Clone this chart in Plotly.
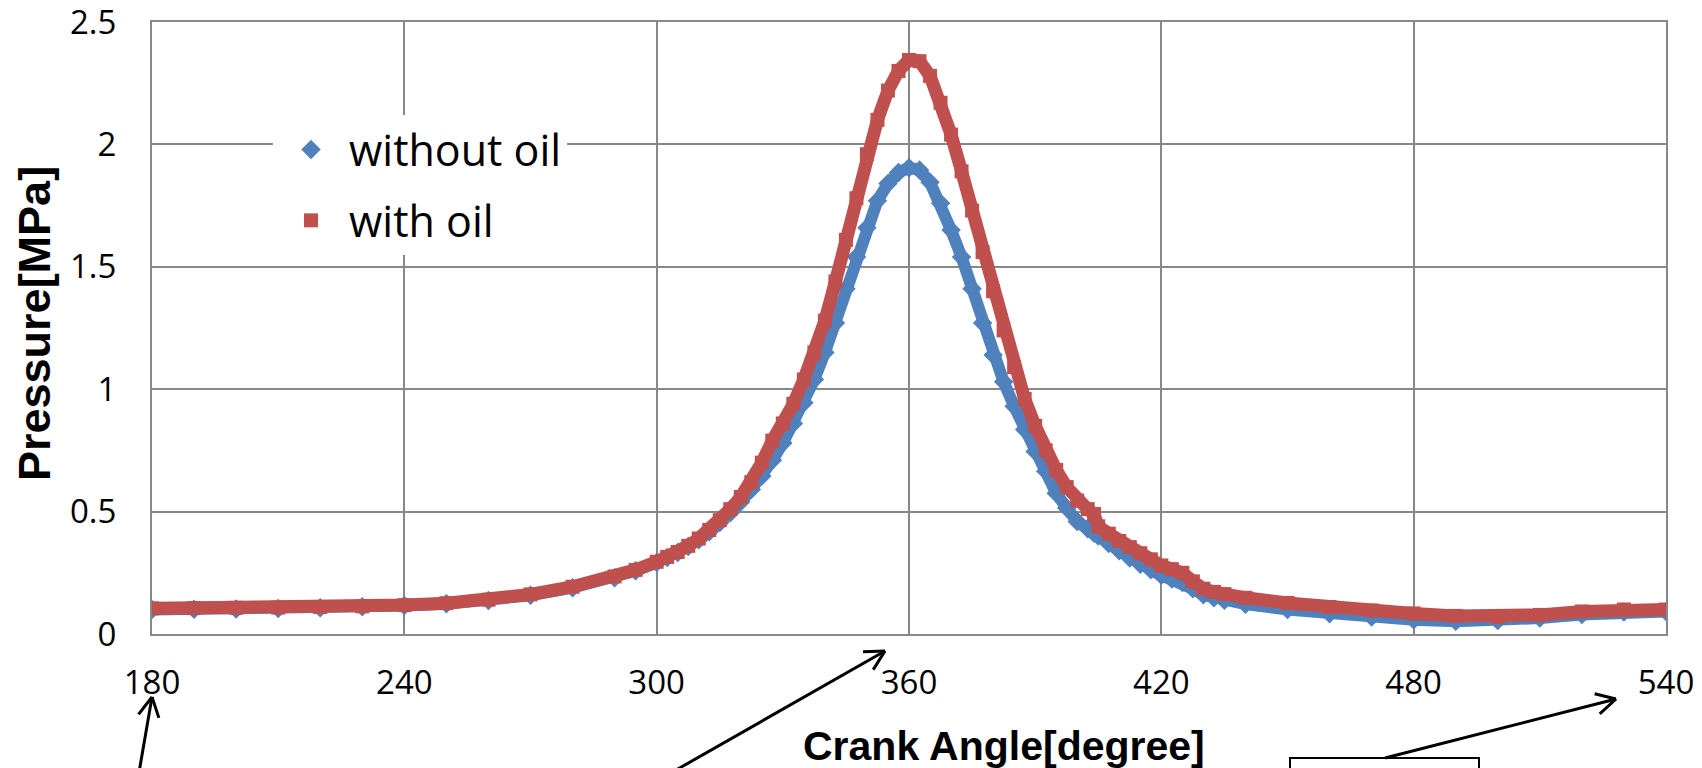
import plotly.graph_objects as go
import math

# ---- data ----
angle_deg = [180, 190, 200, 210, 220, 230, 240, 250, 260, 270, 280, 290, 295,
             300, 302.5, 305, 307.5, 310, 312.5, 315, 317.5, 320, 322.5, 325, 327.5,
             330, 332.5, 335, 337.5, 340, 342.5, 345, 347.5, 350, 352.5, 355, 357.5,
             360, 362.5, 365, 367.5, 370, 372.5, 375, 377.5, 380, 382.5, 385, 387.5,
             390, 392.5, 395, 397.5, 400, 402.5, 404, 405, 407.5, 410, 412.5, 415, 417.5,
             420, 422.5, 425, 427.5, 430, 432.5, 435, 440, 450, 460, 470, 480, 490,
             500, 510, 520, 530, 540]

p_without_oil = [0.100, 0.101, 0.102, 0.104, 0.107, 0.111, 0.116, 0.124, 0.137, 0.158, 0.189, 0.230, 0.258,
                 0.292, 0.312, 0.333, 0.357, 0.385, 0.418, 0.455, 0.495, 0.540, 0.590, 0.645, 0.710,
                 0.780, 0.860, 0.945, 1.040, 1.150, 1.270, 1.410, 1.540, 1.660, 1.770, 1.840, 1.885,
                 1.905, 1.895, 1.845, 1.760, 1.650, 1.540, 1.410, 1.270, 1.140, 1.030, 0.930, 0.835,
                 0.745, 0.665, 0.575, 0.515, 0.460, 0.430, 0.412, 0.400, 0.370, 0.340, 0.310, 0.285, 0.262,
                 0.240, 0.225, 0.210, 0.185, 0.160, 0.148, 0.138, 0.122, 0.100, 0.083, 0.069, 0.058, 0.052,
                 0.055, 0.065, 0.080, 0.090, 0.092]

p_with_oil = [0.105, 0.106, 0.107, 0.108, 0.110, 0.113, 0.118, 0.126, 0.140, 0.162, 0.193, 0.235, 0.262,
              0.295, 0.315, 0.335, 0.360, 0.390, 0.425, 0.465, 0.510, 0.560, 0.620, 0.700, 0.790,
              0.860, 0.940, 1.040, 1.150, 1.280, 1.440, 1.610, 1.780, 1.960, 2.100, 2.220, 2.300,
              2.345, 2.340, 2.280, 2.170, 2.040, 1.890, 1.730, 1.560, 1.400, 1.240, 1.090, 0.960,
              0.850, 0.750, 0.670, 0.600, 0.545, 0.510, 0.490, 0.440, 0.410, 0.380, 0.355, 0.330, 0.305,
              0.280, 0.265, 0.250, 0.215, 0.185, 0.172, 0.163, 0.148, 0.127, 0.110, 0.096, 0.084, 0.074,
              0.070, 0.078, 0.092, 0.100, 0.100]

x_ticks = [180, 240, 300, 360, 420, 480, 540]
y_ticks = [0, 0.5, 1, 1.5, 2, 2.5]
y_tick_text = ["0", "0.5", "1", "1.5", "2", "2.5"]

BLUE = "#4F81BD"
RED = "#C0504D"
GRID = "#888888"

# full-page figure; the body margin is removed by a post script
W, H = 1702, 768
PL, PR, PT, PB = 152, 1666, 22, 634          # plot area in page pixels
ML, MT, MR, MB = PL, PT, W - PR, H - PB
PW, PH = PR - PL, PB - PT


def px(X):
    return (X - PL) / PW


def py(Y):
    return (PB - Y) / PH


fig = go.Figure()

fig.add_trace(go.Scatter(x=angle_deg, y=p_without_oil, mode="lines",
                         line=dict(color=BLUE, width=12), showlegend=False,
                         hoverinfo="skip"))
fig.add_trace(go.Scatter(x=angle_deg, y=p_without_oil, mode="markers", name="without oil",
                         legendgroup="a",
                         marker=dict(symbol="diamond", color=BLUE, size=15)))
fig.add_trace(go.Scatter(x=angle_deg, y=p_with_oil, mode="lines",
                         line=dict(color=RED, width=13), showlegend=False,
                         hoverinfo="skip"))
fig.add_trace(go.Scatter(x=angle_deg, y=p_with_oil, mode="markers", name="with oil",
                         legendgroup="b",
                         marker=dict(symbol="square", color=RED, size=14)))

fig.update_xaxes(range=[180, 540], tickvals=x_ticks, ticktext=[str(v) for v in x_ticks],
                 showgrid=True, gridcolor=GRID, gridwidth=2,
                 showline=True, linecolor=GRID, linewidth=2, mirror=True,
                 zeroline=False, ticks="", ticklabelstandoff=18,
                 ticklabeloverflow="allow", automargin=False,
                 tickfont=dict(family="Open Sans", size=33, color="#000000"))
fig.update_yaxes(range=[0, 2.5], tickvals=y_ticks, ticktext=y_tick_text,
                 showgrid=True, gridcolor=GRID, gridwidth=2,
                 showline=True, linecolor=GRID, linewidth=2, mirror=True,
                 zeroline=False, ticks="", ticklabelstandoff=27,
                 ticklabeloverflow="allow", automargin=False,
                 tickfont=dict(family="Open Sans", size=33, color="#000000"))

annotations = [
    dict(text="<b>Pressure[MPa]</b>", xref="paper", yref="paper", x=px(34), y=py(323),
         textangle=-90, showarrow=False, xanchor="center", yanchor="middle",
         font=dict(family="Liberation Sans", size=45, color="#000000")),
    dict(text="<b>Crank Angle[degree]</b>", xref="paper", yref="paper", x=px(1004), y=py(746),
         showarrow=False, xanchor="center", yanchor="middle",
         font=dict(family="Liberation Sans", size=41, color="#000000")),
]

shapes = []


def arrow(tail, head, head_len=22, spread=28):
    tx, ty = tail
    hx, hy = head
    ang = math.atan2(ty - hy, tx - hx)
    shapes.append(dict(type="line", xref="paper", yref="paper",
                       x0=px(tx), y0=py(ty), x1=px(hx), y1=py(hy),
                       line=dict(color="#000000", width=3)))
    for s in (-1, 1):
        a = ang + s * math.radians(spread)
        ex, ey = hx + head_len * math.cos(a), hy + head_len * math.sin(a)
        shapes.append(dict(type="line", xref="paper", yref="paper",
                           x0=px(ex), y0=py(ey), x1=px(hx), y1=py(hy),
                           line=dict(color="#000000", width=3)))


arrow((136, 790), (152, 697))
arrow((641, 790), (885, 651))
arrow((1385, 758), (1616, 699))

shapes.append(dict(type="rect", xref="paper", yref="paper",
                   x0=px(1290), x1=px(1479), y0=py(758), y1=py(800),
                   line=dict(color="#000000", width=2), fillcolor="rgba(0,0,0,0)"))

fig.update_layout(
    width=W, height=H,
    margin=dict(l=ML, r=MR, t=MT, b=MB, pad=0, autoexpand=False),
    paper_bgcolor="#FFFFFF", plot_bgcolor="#FFFFFF",
    font=dict(family="Open Sans", color="#000000"),
    showlegend=True,
    legend=dict(x=px(273), y=py(115), xanchor="left", yanchor="top",
                bgcolor="#FFFFFF", borderwidth=0, tracegroupgap=12,
                itemwidth=66,
                font=dict(family="Open Sans", size=43, color="#000000"),
                itemsizing="trace"),
    annotations=annotations,
    shapes=shapes,
)

fig.write_html("out.html",
               config={"displayModeBar": False},
               post_script="document.body.style.margin='0';document.body.style.overflow='hidden';")
